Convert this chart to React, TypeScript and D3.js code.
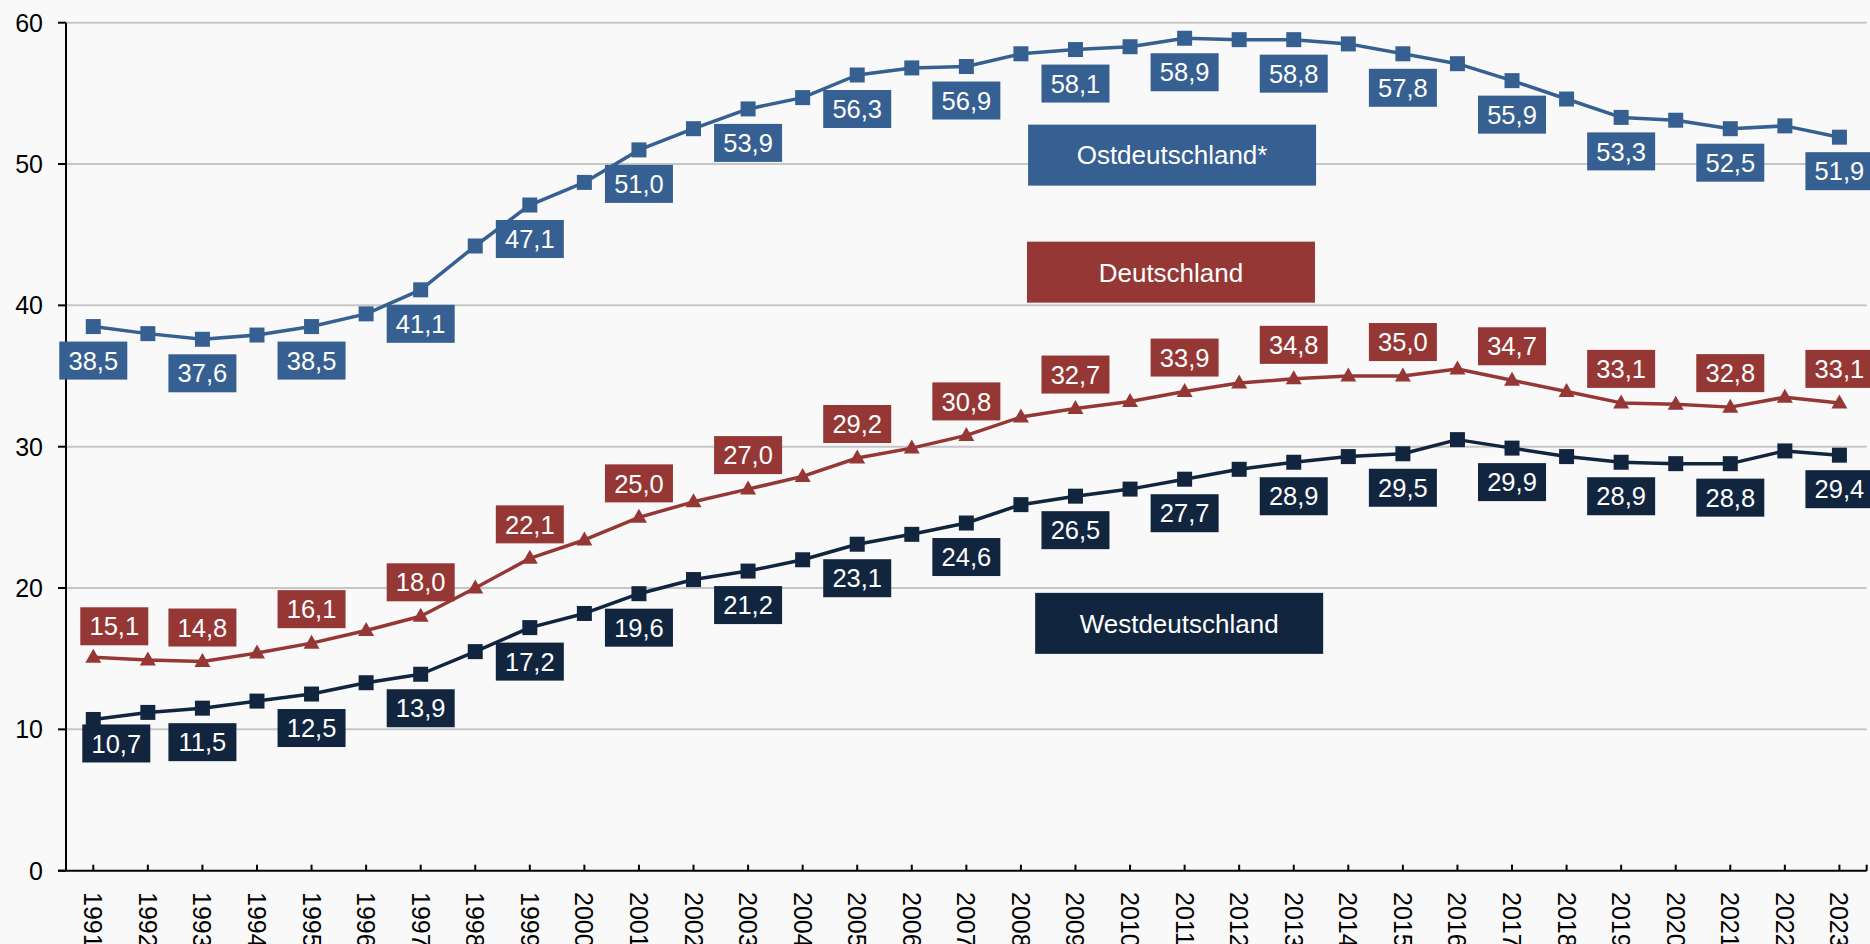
import React from 'react';
import * as d3 from 'd3';

// categories
const years = [
  1991, 1992, 1993, 1994, 1995, 1996, 1997, 1998, 1999, 2000, 2001,
  2002, 2003, 2004, 2005, 2006, 2007, 2008, 2009, 2010, 2011, 2012,
  2013, 2014, 2015, 2016, 2017, 2018, 2019, 2020, 2021, 2022, 2023,
];

// series values (in %)
const ostValues = [
  38.5, 38.0, 37.6, 37.9, 38.5, 39.4, 41.1, 44.2, 47.1, 48.7, 51.0,
  52.5, 53.9, 54.7, 56.3, 56.8, 56.9, 57.8, 58.1, 58.3, 58.9, 58.8,
  58.8, 58.5, 57.8, 57.1, 55.9, 54.6, 53.3, 53.1, 52.5, 52.7, 51.9,
];
const deValues = [
  15.1, 14.9, 14.8, 15.4, 16.1, 17.0, 18.0, 20.0, 22.1, 23.4, 25.0,
  26.1, 27.0, 27.9, 29.2, 29.9, 30.8, 32.1, 32.7, 33.2, 33.9, 34.5,
  34.8, 35.0, 35.0, 35.5, 34.7, 33.9, 33.1, 33.0, 32.8, 33.5, 33.1,
];
const westValues = [
  10.7, 11.2, 11.5, 12.0, 12.5, 13.3, 13.9, 15.5, 17.2, 18.2, 19.6,
  20.6, 21.2, 22.0, 23.1, 23.8, 24.6, 25.9, 26.5, 27.0, 27.7, 28.4,
  28.9, 29.3, 29.5, 30.5, 29.9, 29.3, 28.9, 28.8, 28.8, 29.7, 29.4,
];

const yTicks = [0, 10, 20, 30, 40, 50, 60];

const series = [
  { key: 'ost', name: 'Ostdeutschland*', values: ostValues, color: '#376092', marker: 'square', labelDy: 34, boxYear: 2010.77, boxValue: 50.63 },
  { key: 'de', name: 'Deutschland', values: deValues, color: '#953735', marker: 'triangle', labelDy: -34, boxYear: 2010.75, boxValue: 42.35 },
  { key: 'west', name: 'Westdeutschland', values: westValues, color: '#12253f', marker: 'square', labelDy: 34, boxYear: 2010.9, boxValue: 17.5 },
];

// a couple of labels nudged by hand in the original
const labelNudge: Record<string, { dx: number; dy: number }> = {
  'de-1991': { dx: 21, dy: 3 },
  'west-1991': { dx: 23, dy: -10 },
};

const W = 1870;
const H = 944;
const FONT = "'Liberation Sans', Arial, Helvetica, sans-serif";

const App: React.FC = () => {
  const x = d3.scaleLinear().domain([1990.5, 2023.5]).range([66, 1866.7]);
  const y = d3.scaleLinear().domain([0, 60]).range([870.7, 22.7]);

  const line = d3.line<number>()
    .x((_, i) => x(years[i]))
    .y(d => y(d));

  const fmt = (v: number) => v.toFixed(1).replace('.', ',');

  return (
    <svg width={W} height={H} style={{ position: 'absolute', left: 0, top: 0, display: 'block' }} fontFamily={FONT}>
      <rect x={0} y={0} width={W} height={H} fill="#f9f9f9" />

      {/* gridlines */}
      {yTicks.filter(t => t > 0).map(t => (
        <line key={t} x1={x.range()[0]} x2={x.range()[1]} y1={y(t)} y2={y(t)} stroke="#c6c6c6" strokeWidth={2} />
      ))}

      {/* y axis */}
      <line x1={x.range()[0]} x2={x.range()[0]} y1={y(60)} y2={y(0)} stroke="#000" strokeWidth={2} />
      {yTicks.map(t => (
        <g key={t}>
          <line x1={58} x2={x.range()[0]} y1={y(t)} y2={y(t)} stroke="#000" strokeWidth={2} />
          <text x={43} y={y(t)} dy="0.36em" textAnchor="end" fontSize={25} fill="#000">{t}</text>
        </g>
      ))}

      {/* x axis */}
      <line x1={58} x2={x.range()[1]} y1={y(0)} y2={y(0)} stroke="#000" strokeWidth={2} />
      {years.map(yr => (
        <g key={yr}>
          <line x1={x(yr)} x2={x(yr)} y1={y(0) - 6} y2={y(0)} stroke="#000" strokeWidth={2} />
          <text transform={`translate(${x(yr)},${892}) rotate(90)`} dy="0.36em" textAnchor="start" fontSize={25} fill="#000">{yr}</text>
        </g>
      ))}
      <line x1={x.range()[1]} x2={x.range()[1]} y1={y(0) - 6} y2={y(0)} stroke="#000" strokeWidth={2} />

      {/* lines and markers */}
      {series.map(s => (
        <g key={s.key}>
          <path d={line(s.values) || ''} fill="none" stroke={s.color} strokeWidth={3.5} strokeLinejoin="round" />
          {s.values.map((v, i) => {
            const cx = x(years[i]);
            const cy = y(v);
            return s.marker === 'square'
              ? <rect key={i} x={cx - 7.5} y={cy - 7.5} width={15} height={15} fill={s.color} />
              : <path key={i} d={`M${cx},${cy - 8.5}L${cx + 8},${cy + 5.5}L${cx - 8},${cy + 5.5}Z`} fill={s.color} />;
          })}
        </g>
      ))}

      {/* data labels, every second year */}
      {series.map(s => (
        <g key={s.key + '-labels'}>
          {s.values.map((v, i) => {
            if (i % 2 !== 0) return null;
            const nudge = labelNudge[`${s.key}-${years[i]}`] || { dx: 0, dy: 0 };
            const cx = x(years[i]) + nudge.dx;
            const cy = y(v) + s.labelDy + nudge.dy;
            return (
              <g key={i}>
                <rect x={cx - 34} y={cy - 19} width={68} height={38} fill={s.color} />
                <text x={cx} y={cy} dy="0.36em" textAnchor="middle" fontSize={25.5} fill="#fff">{fmt(v)}</text>
              </g>
            );
          })}
        </g>
      ))}

      {/* series name boxes */}
      {series.map(s => {
        const cx = x(s.boxYear);
        const cy = y(s.boxValue);
        return (
          <g key={s.key + '-name'}>
            <rect x={cx - 144} y={cy - 30.5} width={288} height={61} fill={s.color} />
            <text x={cx} y={cy} dy="0.36em" textAnchor="middle" fontSize={26} fill="#fff">{s.name}</text>
          </g>
        );
      })}
    </svg>
  );
};

export default App;
